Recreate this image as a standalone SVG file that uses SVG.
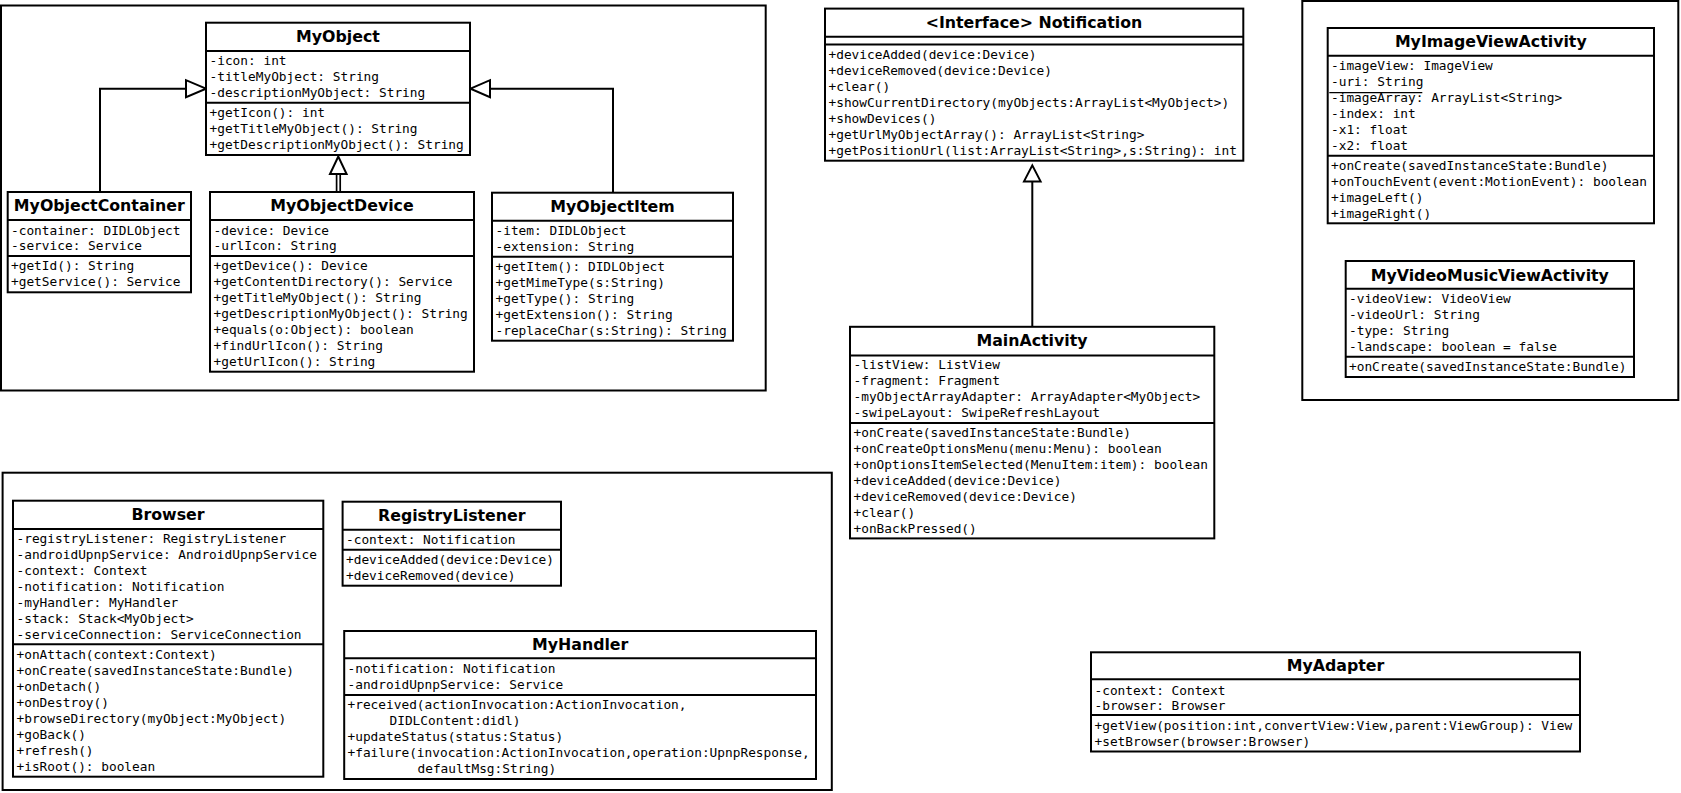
<svg xmlns="http://www.w3.org/2000/svg" width="1681" height="793" viewBox="0 0 1681 793">
<style>
.bg{fill:#fff}
.frame{fill:none;stroke:#000;stroke-width:2}
.box{fill:#fff;stroke:#000;stroke-width:2}
.sep{stroke:#000;stroke-width:2}
.t{font-family:"DejaVu Sans","Liberation Sans",sans-serif;font-weight:bold;font-size:15.8px;text-anchor:middle;fill:#000}
.m{font-family:"DejaVu Sans Mono","Liberation Mono",monospace;font-size:12.8px;fill:#000}
.conn{fill:none;stroke:#000;stroke-width:2}
.tri{fill:#fff;stroke:#000;stroke-width:2;stroke-linejoin:miter}
</style>
<rect class="bg" x="0" y="0" width="1681" height="793"/>

<g id="frames">
<rect class="frame" x="1" y="5.5" width="764.7" height="385"/>
<rect class="frame" x="1302.3" y="1" width="376" height="399"/>
<rect class="frame" x="2.6" y="472.7" width="829.2" height="317.3"/>
</g>

<g id="connectors">
<polyline class="conn" points="100,192 100,88.7 186,88.7"/>
<polygon class="tri" points="206,88.7 186,80.2 186,97.2"/>
<polyline class="conn" points="613,192.7 613,88.7 490,88.7"/>
<polygon class="tri" points="470.5,88.7 490,80.2 490,97.2"/>
<line class="conn" x1="336.6" y1="174" x2="336.6" y2="192" style="stroke-width:1.7"/>
<line class="conn" x1="340.2" y1="174" x2="340.2" y2="192" style="stroke-width:1.7"/>
<polygon class="tri" points="338.3,156.5 330,174 346.6,174"/>
<line class="conn" x1="1032.3" y1="181.4" x2="1032.3" y2="326.8"/>
<polygon class="tri" points="1032.3,165.4 1024,181.4 1040.6,181.4"/>
</g>

<g id="MyObject">
<rect class="box" x="206" y="22.7" width="264" height="132.3"/>
<line class="sep" x1="206" y1="51" x2="470" y2="51"/>
<line class="sep" x1="206" y1="102.7" x2="470" y2="102.7"/>
<text class="t" x="338" y="41.8">MyObject</text>
<text class="m" x="209.5" y="65.4">-icon: int</text>
<text class="m" x="209.5" y="81.1">-titleMyObject: String</text>
<text class="m" x="209.5" y="96.8">-descriptionMyObject: String</text>
<text class="m" x="209.5" y="117.2">+getIcon(): int</text>
<text class="m" x="209.5" y="133.2">+getTitleMyObject(): String</text>
<text class="m" x="209.5" y="149.2">+getDescriptionMyObject(): String</text>
</g>

<g id="MyObjectContainer">
<rect class="box" x="7.7" y="192" width="183.3" height="100.3"/>
<line class="sep" x1="7.7" y1="220" x2="191" y2="220"/>
<line class="sep" x1="7.7" y1="256" x2="191" y2="256"/>
<text class="t" x="99.3" y="210.8">MyObjectContainer</text>
<text class="m" x="11" y="234.5">-container: DIDLObject</text>
<text class="m" x="11" y="250.2">-service: Service</text>
<text class="m" x="11" y="270.2">+getId(): String</text>
<text class="m" x="11" y="286.2">+getService(): Service</text>
</g>

<g id="MyObjectDevice">
<rect class="box" x="210" y="192" width="264" height="179.7"/>
<line class="sep" x1="210" y1="220" x2="474" y2="220"/>
<line class="sep" x1="210" y1="256" x2="474" y2="256"/>
<text class="t" x="342" y="210.8">MyObjectDevice</text>
<text class="m" x="213.5" y="234.5">-device: Device</text>
<text class="m" x="213.5" y="250.2">-urlIcon: String</text>
<text class="m" x="213.5" y="270.2">+getDevice(): Device</text>
<text class="m" x="213.5" y="286.2">+getContentDirectory(): Service</text>
<text class="m" x="213.5" y="301.8">+getTitleMyObject(): String</text>
<text class="m" x="213.5" y="318.2">+getDescriptionMyObject(): String</text>
<text class="m" x="213.5" y="333.8">+equals(o:Object): boolean</text>
<text class="m" x="213.5" y="350.2">+findUrlIcon(): String</text>
<text class="m" x="213.5" y="365.8">+getUrlIcon(): String</text>
</g>

<g id="MyObjectItem">
<rect class="box" x="492" y="192.7" width="241" height="148"/>
<line class="sep" x1="492" y1="220.7" x2="733" y2="220.7"/>
<line class="sep" x1="492" y1="256.7" x2="733" y2="256.7"/>
<text class="t" x="612.5" y="212.4">MyObjectItem</text>
<text class="m" x="495.5" y="235.2">-item: DIDLObject</text>
<text class="m" x="495.5" y="251.2">-extension: String</text>
<text class="m" x="495.5" y="271.2">+getItem(): DIDLObject</text>
<text class="m" x="495.5" y="287.2">+getMimeType(s:String)</text>
<text class="m" x="495.5" y="303.2">+getType(): String</text>
<text class="m" x="495.5" y="319.2">+getExtension(): String</text>
<text class="m" x="495.5" y="335.2">-replaceChar(s:String): String</text>
</g>

<g id="Notification">
<rect class="box" x="825" y="8.6" width="418.3" height="152.1"/>
<line class="sep" x1="825" y1="36.8" x2="1243.3" y2="36.8"/>
<line class="sep" x1="825" y1="44.6" x2="1243.3" y2="44.6"/>
<text class="t" x="1034" y="27.8">&lt;Interface&gt; Notification</text>
<text class="m" x="828.5" y="59.1">+deviceAdded(device:Device)</text>
<text class="m" x="828.5" y="75.2">+deviceRemoved(device:Device)</text>
<text class="m" x="828.5" y="91.3">+clear()</text>
<text class="m" x="828.5" y="107.4">+showCurrentDirectory(myObjects:ArrayList&lt;MyObject&gt;)</text>
<text class="m" x="828.5" y="123.1">+showDevices()</text>
<text class="m" x="828.5" y="139.1">+getUrlMyObjectArray(): ArrayList&lt;String&gt;</text>
<text class="m" x="828.5" y="154.9">+getPositionUrl(list:ArrayList&lt;String&gt;,s:String): int</text>
</g>

<g id="MainActivity">
<rect class="box" x="850" y="326.8" width="364.3" height="211.6"/>
<line class="sep" x1="850" y1="355.4" x2="1214.3" y2="355.4"/>
<line class="sep" x1="850" y1="423" x2="1214.3" y2="423"/>
<text class="t" x="1032" y="346">MainActivity</text>
<text class="m" x="853.5" y="368.8">-listView: ListView</text>
<text class="m" x="853.5" y="384.9">-fragment: Fragment</text>
<text class="m" x="853.5" y="400.9">-myObjectArrayAdapter: ArrayAdapter&lt;MyObject&gt;</text>
<text class="m" x="853.5" y="417">-swipeLayout: SwipeRefreshLayout</text>
<text class="m" x="853.5" y="436.6">+onCreate(savedInstanceState:Bundle)</text>
<text class="m" x="853.5" y="452.7">+onCreateOptionsMenu(menu:Menu): boolean</text>
<text class="m" x="853.5" y="468.8">+onOptionsItemSelected(MenuItem:item): boolean</text>
<text class="m" x="853.5" y="484.9">+deviceAdded(device:Device)</text>
<text class="m" x="853.5" y="500.9">+deviceRemoved(device:Device)</text>
<text class="m" x="853.5" y="517">+clear()</text>
<text class="m" x="853.5" y="532.6">+onBackPressed()</text>
</g>

<g id="MyImageViewActivity">
<rect class="box" x="1327.7" y="28" width="326.3" height="195.3"/>
<line class="sep" x1="1327.7" y1="55.7" x2="1654" y2="55.7"/>
<line class="sep" x1="1327.7" y1="155.7" x2="1654" y2="155.7"/>
<line x1="1329.3" y1="92.7" x2="1422.3" y2="92.7" stroke="#000" stroke-width="1.2"/>
<text class="t" x="1490.8" y="47.4">MyImageViewActivity</text>
<text class="m" x="1331" y="70.2">-imageView: ImageView</text>
<text class="m" x="1331" y="85.8">-uri: String</text>
<text class="m" x="1331" y="101.8">-imageArray: ArrayList&lt;String&gt;</text>
<text class="m" x="1331" y="118.2">-index: int</text>
<text class="m" x="1331" y="133.8">-x1: float</text>
<text class="m" x="1331" y="149.8">-x2: float</text>
<text class="m" x="1331" y="169.5">+onCreate(savedInstanceState:Bundle)</text>
<text class="m" x="1331" y="186.2">+onTouchEvent(event:MotionEvent): boolean</text>
<text class="m" x="1331" y="202.2">+imageLeft()</text>
<text class="m" x="1331" y="218.2">+imageRight()</text>
</g>

<g id="MyVideoMusicViewActivity">
<rect class="box" x="1345.7" y="261" width="288.3" height="116"/>
<line class="sep" x1="1345.7" y1="288.7" x2="1634" y2="288.7"/>
<line class="sep" x1="1345.7" y1="356.7" x2="1634" y2="356.7"/>
<text class="t" x="1489.8" y="280.7">MyVideoMusicViewActivity</text>
<text class="m" x="1349" y="302.8">-videoView: VideoView</text>
<text class="m" x="1349" y="318.8">-videoUrl: String</text>
<text class="m" x="1349" y="335.2">-type: String</text>
<text class="m" x="1349" y="351.2">-landscape: boolean = false</text>
<text class="m" x="1349" y="371.2">+onCreate(savedInstanceState:Bundle)</text>
</g>

<g id="MyAdapter">
<rect class="box" x="1091" y="652.3" width="489" height="99.2"/>
<line class="sep" x1="1091" y1="679.3" x2="1580" y2="679.3"/>
<line class="sep" x1="1091" y1="715" x2="1580" y2="715"/>
<text class="t" x="1335.5" y="671.4">MyAdapter</text>
<text class="m" x="1094.5" y="694.5">-context: Context</text>
<text class="m" x="1094.5" y="710.2">-browser: Browser</text>
<text class="m" x="1094.5" y="730.3">+getView(position:int,convertView:View,parent:ViewGroup): View</text>
<text class="m" x="1094.5" y="745.5">+setBrowser(browser:Browser)</text>
</g>

<g id="Browser">
<rect class="box" x="13" y="500.7" width="310.3" height="276"/>
<line class="sep" x1="13" y1="529" x2="323.3" y2="529"/>
<line class="sep" x1="13" y1="644.3" x2="323.3" y2="644.3"/>
<text class="t" x="168" y="519.7">Browser</text>
<text class="m" x="16.5" y="543.2">-registryListener: RegistryListener</text>
<text class="m" x="16.5" y="559.2">-androidUpnpService: AndroidUpnpService</text>
<text class="m" x="16.5" y="574.8">-context: Context</text>
<text class="m" x="16.5" y="591.2">-notification: Notification</text>
<text class="m" x="16.5" y="607.2">-myHandler: MyHandler</text>
<text class="m" x="16.5" y="623.2">-stack: Stack&lt;MyObject&gt;</text>
<text class="m" x="16.5" y="639.2">-serviceConnection: ServiceConnection</text>
<text class="m" x="16.5" y="659.2">+onAttach(context:Context)</text>
<text class="m" x="16.5" y="675.2">+onCreate(savedInstanceState:Bundle)</text>
<text class="m" x="16.5" y="691.2">+onDetach()</text>
<text class="m" x="16.5" y="707.2">+onDestroy()</text>
<text class="m" x="16.5" y="723.2">+browseDirectory(myObject:MyObject)</text>
<text class="m" x="16.5" y="739.2">+goBack()</text>
<text class="m" x="16.5" y="755.2">+refresh()</text>
<text class="m" x="16.5" y="771.2">+isRoot(): boolean</text>
</g>

<g id="RegistryListener">
<rect class="box" x="342.6" y="501.7" width="218.4" height="84"/>
<line class="sep" x1="342.6" y1="529.7" x2="561" y2="529.7"/>
<line class="sep" x1="342.6" y1="549.7" x2="561" y2="549.7"/>
<text class="t" x="451.8" y="520.7">RegistryListener</text>
<text class="m" x="346" y="544.2">-context: Notification</text>
<text class="m" x="346" y="563.8">+deviceAdded(device:Device)</text>
<text class="m" x="346" y="580.2">+deviceRemoved(device)</text>
</g>

<g id="MyHandler">
<rect class="box" x="344.2" y="631" width="471.8" height="148"/>
<line class="sep" x1="344.2" y1="658.3" x2="816" y2="658.3"/>
<line class="sep" x1="344.2" y1="695" x2="816" y2="695"/>
<text class="t" x="580.2" y="650">MyHandler</text>
<text class="m" x="347.5" y="673.2">-notification: Notification</text>
<text class="m" x="347.5" y="689.2">-androidUpnpService: Service</text>
<text class="m" x="347.5" y="709.2">+received(actionInvocation:ActionInvocation,</text>
<text class="m" x="389.5" y="724.8">DIDLContent:didl)</text>
<text class="m" x="347.5" y="741.2">+updateStatus(status:Status)</text>
<text class="m" x="347.5" y="757.2">+failure(invocation:ActionInvocation,operation:UpnpResponse,</text>
<text class="m" x="417.5" y="772.8">defaultMsg:String)</text>
</g>
</svg>
